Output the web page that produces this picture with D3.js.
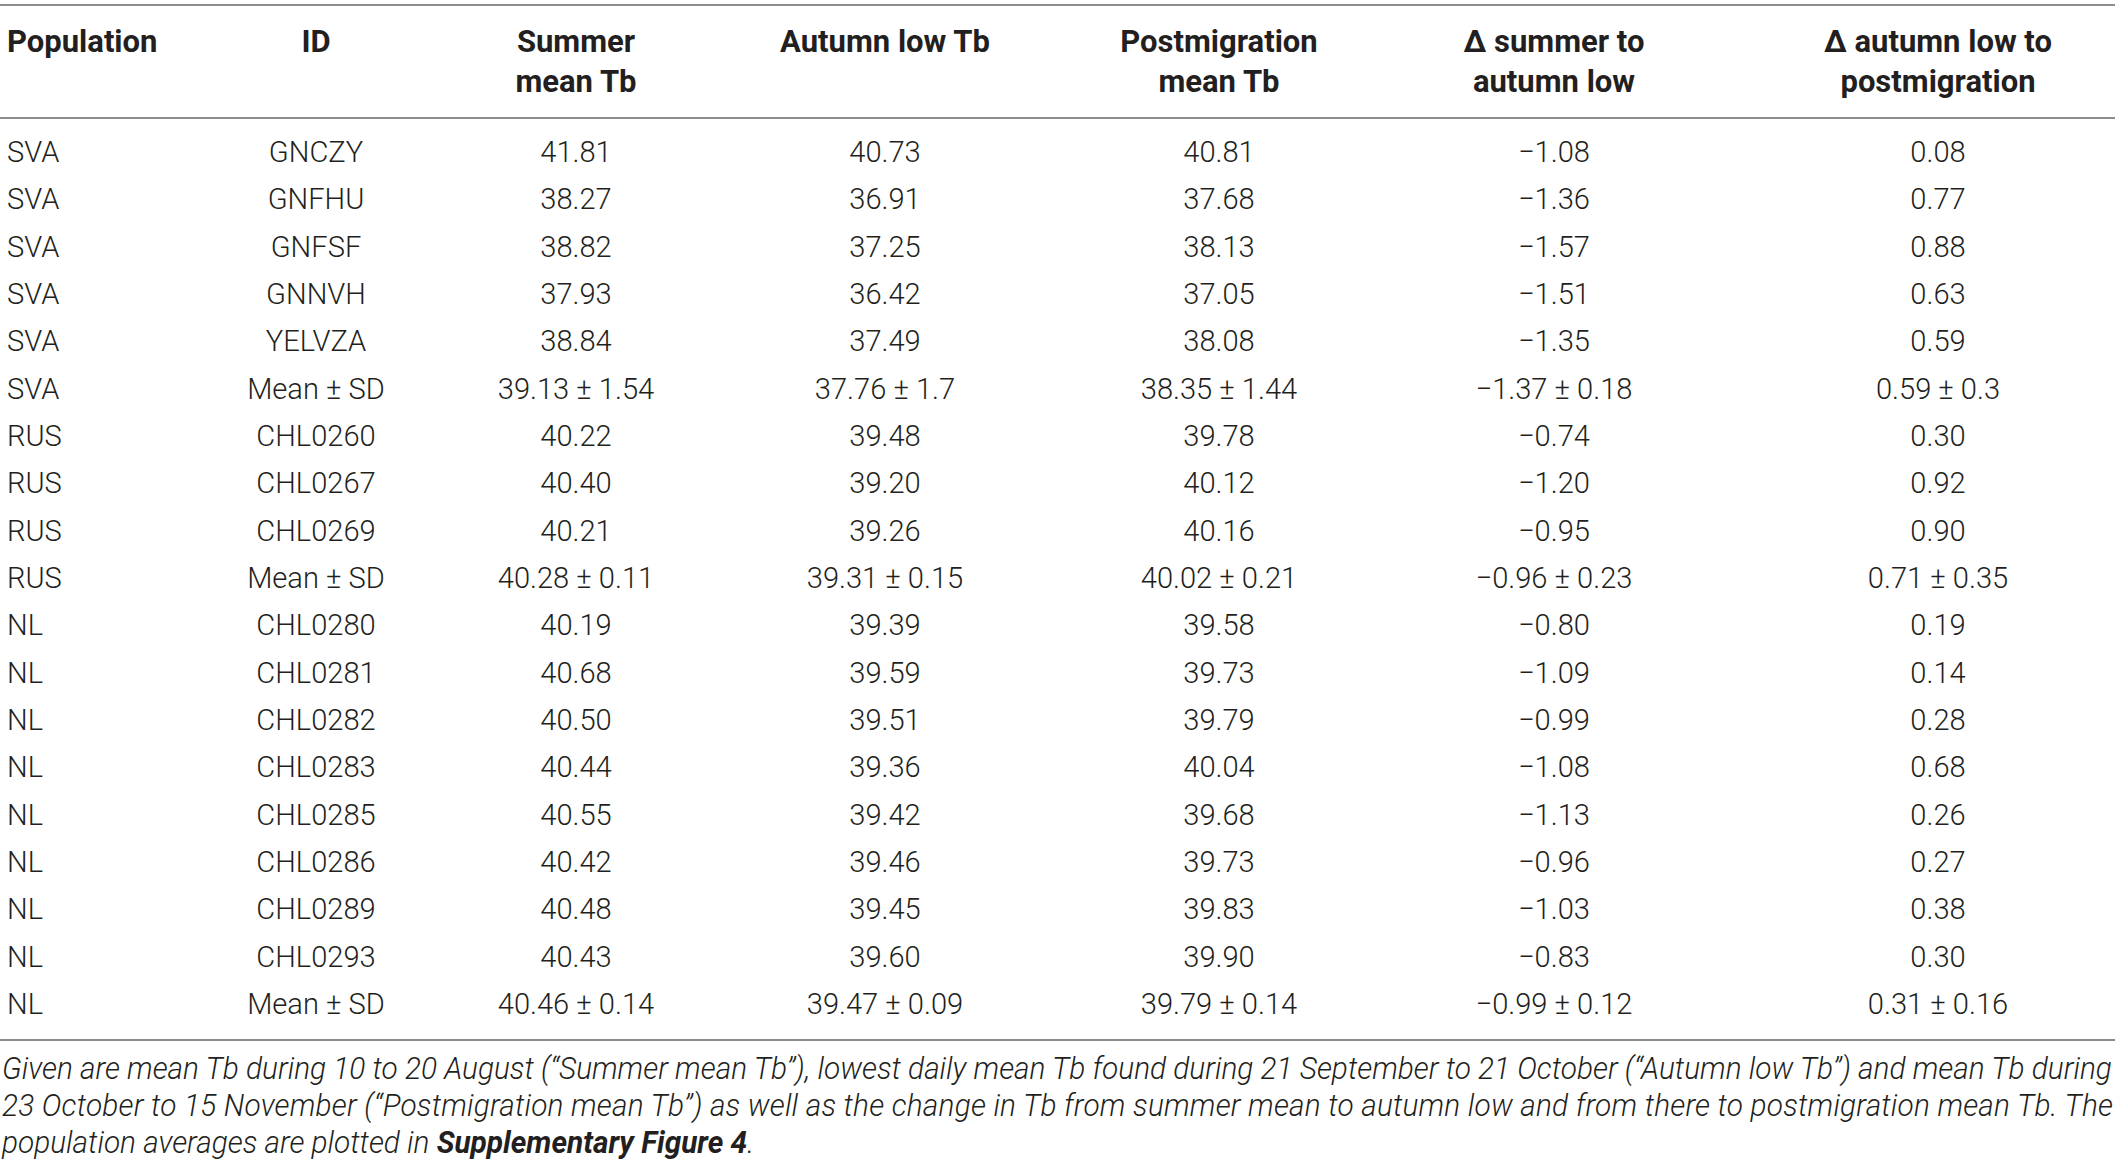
<!DOCTYPE html>
<html>
<head>
<meta charset="utf-8">
<script src="https://cdn.jsdelivr.net/npm/d3@7/dist/d3.min.js"></script>
<style>
  body { margin: 0; background: #ffffff; }
  text { fill: #231f20; font-family: Roboto, sans-serif; }
</style>
</head>
<body>
<svg></svg>
<script>
// table data
var population = ['SVA', 'SVA', 'SVA', 'SVA', 'SVA', 'SVA',
                  'RUS', 'RUS', 'RUS', 'RUS',
                  'NL', 'NL', 'NL', 'NL', 'NL', 'NL', 'NL', 'NL', 'NL']
var ids = ['GNCZY', 'GNFHU', 'GNFSF', 'GNNVH', 'YELVZA', 'Mean ± SD',
           'CHL0260', 'CHL0267', 'CHL0269', 'Mean ± SD',
           'CHL0280', 'CHL0281', 'CHL0282', 'CHL0283', 'CHL0285', 'CHL0286', 'CHL0289', 'CHL0293', 'Mean ± SD']
var summerMean = ['41.81', '38.27', '38.82', '37.93', '38.84', '39.13 ± 1.54',
                  '40.22', '40.40', '40.21', '40.28 ± 0.11',
                  '40.19', '40.68', '40.50', '40.44', '40.55', '40.42', '40.48', '40.43', '40.46 ± 0.14']
var autumnLow = ['40.73', '36.91', '37.25', '36.42', '37.49', '37.76 ± 1.7',
                 '39.48', '39.20', '39.26', '39.31 ± 0.15',
                 '39.39', '39.59', '39.51', '39.36', '39.42', '39.46', '39.45', '39.60', '39.47 ± 0.09']
var postMean = ['40.81', '37.68', '38.13', '37.05', '38.08', '38.35 ± 1.44',
                '39.78', '40.12', '40.16', '40.02 ± 0.21',
                '39.58', '39.73', '39.79', '40.04', '39.68', '39.73', '39.83', '39.90', '39.79 ± 0.14']
var deltaSummer = ['−1.08', '−1.36', '−1.57', '−1.51', '−1.35', '−1.37 ± 0.18',
                   '−0.74', '−1.20', '−0.95', '−0.96 ± 0.23',
                   '−0.80', '−1.09', '−0.99', '−1.08', '−1.13', '−0.96', '−1.03', '−0.83', '−0.99 ± 0.12']
var deltaAutumn = ['0.08', '0.77', '0.88', '0.63', '0.59', '0.59 ± 0.3',
                   '0.30', '0.92', '0.90', '0.71 ± 0.35',
                   '0.19', '0.14', '0.28', '0.68', '0.26', '0.27', '0.38', '0.30', '0.31 ± 0.16']

var headers = [['Population'], ['ID'], ['Summer', 'mean Tb'], ['Autumn low Tb'],
               ['Postmigration', 'mean Tb'], ['Δ summer to', 'autumn low'], ['Δ autumn low to', 'postmigration']]

var caption = [
  [{t: 'Given are mean Tb during 10 to 20 August (“Summer mean Tb”), lowest daily mean Tb found during 21 September to 21 October (“Autumn low Tb”) and mean Tb during'}],
  [{t: '23 October to 15 November (“Postmigration mean Tb”) as well as the change in Tb from summer mean to autumn low and from there to postmigration mean Tb. The'}],
  [{t: 'population averages are plotted in '}, {t: 'Supplementary Figure 4', b: true}, {t: '.'}]
]

var svgWidth = 2119, svgHeight = 1162
var tableRight = 2115
var squeeze = 0.97

var svg = d3.select('svg')
    .attr('width', svgWidth)
    .attr('height', svgHeight)

var columns = ['pop', 'id', 'summer', 'autumn', 'post', 'dsum', 'daut']
var x = d3.scaleOrdinal()
    .domain(columns)
    .range([7, 316, 576, 885, 1219, 1554, 1938])

var rows = population.map(function(p, i) {
    return [p, ids[i], summerMean[i], autumnLow[i], postMean[i], deltaSummer[i], deltaAutumn[i]]
})

var y = d3.scalePoint()
    .domain(d3.range(rows.length))
    .range([162, 1014])

// rules
svg.selectAll('line.rule')
    .data([5, 118, 1040])
    .enter()
    .append('line')
    .attr('class', 'rule')
    .attr('x1', 0)
    .attr('x2', tableRight)
    .attr('y1', function(d) { return d })
    .attr('y2', function(d) { return d })
    .style('stroke', '#8c8c8c')
    .style('stroke-width', 2)

// header
var head = svg.selectAll('g.head')
    .data(headers)
    .enter()
    .append('g')
    .attr('class', 'head')

head.selectAll('text')
    .data(function(d, i) { return d.map(function(s) { return {s: s, col: i} }) })
    .enter()
    .append('text')
    .text(function(d) { return d.s })
    .attr('x', function(d) { return x(columns[d.col]) })
    .attr('y', function(d, j) { return 52 + j * 40 })
    .attr('text-anchor', function(d) { return d.col === 0 ? 'start' : 'middle' })
    .style('font-size', '31px')
    .style('font-weight', 700)

// body cells
var row = svg.selectAll('g.row')
    .data(rows)
    .enter()
    .append('g')
    .attr('class', 'row')

row.selectAll('text')
    .data(function(d, i) { return d.map(function(v, c) { return {v: v, col: c, r: i} }) })
    .enter()
    .append('text')
    .text(function(d) { return d.v })
    .attr('transform', function(d) {
        return 'translate(' + x(columns[d.col]) + ',' + y(d.r) + ') scale(' + squeeze + ',1)'
    })
    .attr('text-anchor', function(d) { return d.col === 0 ? 'start' : 'middle' })
    .style('font-size', '30px')
    .style('font-weight', 300)

// caption, first two lines justified to the table width
var cap = svg.selectAll('text.caption')
    .data(caption)
    .enter()
    .append('text')
    .attr('class', 'caption')
    .style('font-size', '31px')
    .style('font-weight', 300)
    .style('font-style', 'italic')

cap.selectAll('tspan')
    .data(function(d) { return d })
    .enter()
    .append('tspan')
    .text(function(d) { return d.t })
    .style('font-weight', function(d) { return d.b ? 700 : 300 })

var natural = cap.nodes()[0].getComputedTextLength()
var k = (tableRight - 4) / natural
cap.attr('transform', function(d, i) {
    return 'translate(2,' + (1079 + i * 37) + ') scale(' + k + ',1)'
})
// line 2 stretched to the same edge
d3.select(cap.nodes()[1])
    .attr('textLength', natural)
    .attr('lengthAdjust', 'spacing')
</script>
</body>
</html>
